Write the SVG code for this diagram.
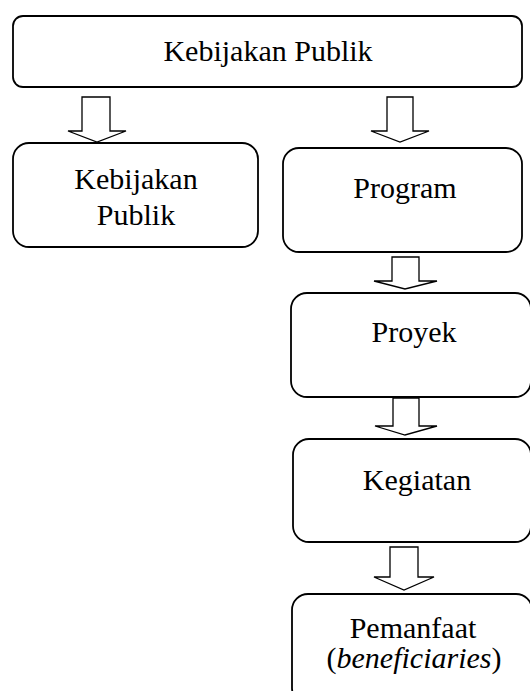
<svg xmlns="http://www.w3.org/2000/svg" width="530" height="691" viewBox="0 0 530 691">
<style>
.box{fill:#fff;stroke:#000;stroke-width:1.8}
.arr{fill:#fff;stroke:#000;stroke-width:1.3;stroke-linejoin:miter}
text{font-family:"Liberation Serif","Times New Roman",serif;font-size:30px;fill:#000;text-anchor:middle}
</style>
<rect width="530" height="691" fill="#fff"/>
<g id="connectors">
<polygon class="arr" points="82,97 110,97 110,131 126,131 97,142 68,131 82,131"/>
<polygon class="arr" points="387,97 413,97 413,131 429,131 400,142 371,131 387,131"/>
<polygon class="arr" points="392,257 419,257 419,281 437,281 405,289 374,281 392,281"/>
<polygon class="arr" points="393,398 419,398 419,426 437,426 405,435 375,426 393,426"/>
<polygon class="arr" points="390,547 418,547 418,577 434,577 404,590 374,577 390,577"/>
</g>
<g id="n1"><rect class="box" x="13" y="16" width="509" height="71" rx="10"/><text x="268" y="61">Kebijakan Publik</text></g>
<g id="n2"><rect class="box" x="13" y="143" width="245" height="104" rx="16"/><text x="136" y="189">Kebijakan</text><text x="136" y="225">Publik</text></g>
<g id="n3"><rect class="box" x="283" y="148" width="239" height="104" rx="16"/><text x="405" y="198">Program</text></g>
<g id="n4"><rect class="box" x="291" y="293" width="240" height="104" rx="16"/><text x="414" y="342">Proyek</text></g>
<g id="n5"><rect class="box" x="293" y="439" width="238" height="103" rx="16"/><text x="417" y="490">Kegiatan</text></g>
<g id="n6"><rect class="box" x="292" y="594" width="240" height="110" rx="16"/><text x="413" y="638">Pemanfaat</text><text x="414" y="668">(<tspan font-style="italic">beneficiaries</tspan>)</text></g>
</svg>
